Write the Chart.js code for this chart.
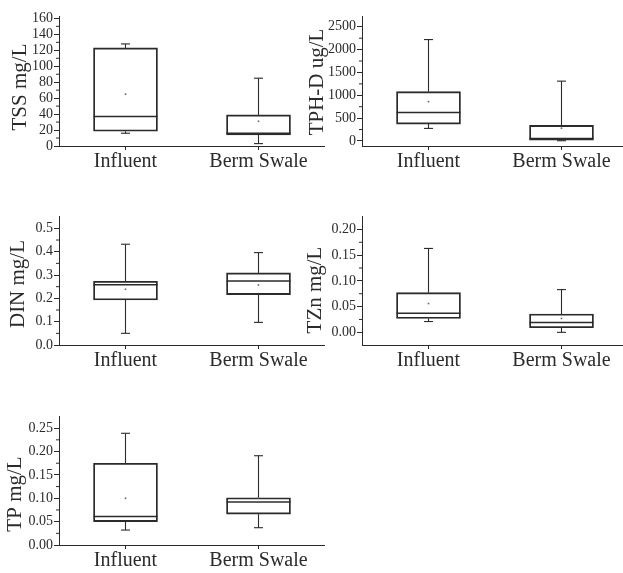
<!DOCTYPE html>
<html>
<head>
<meta charset="utf-8">
<script src="https://cdn.jsdelivr.net/npm/chart.js@4.4.1/dist/chart.umd.min.js"></script>
<style>
  html, body { margin: 0; padding: 0; background: #fff; width: 623px; height: 573px; overflow: hidden; }
  canvas { position: absolute; }
</style>
</head>
<body>
<canvas id="c0"></canvas>
<canvas id="c1"></canvas>
<canvas id="c2"></canvas>
<canvas id="c3"></canvas>
<canvas id="c4"></canvas>
<script>
const groups = ["Influent", "Berm Swale"];
const xPos = [1, 2];

// TSS mg/L
const tssQ1 = [18.5, 14];
const tssQ3 = [123, 39];
const tssMedian = [37, 16];
const tssMean = [65, 31];
const tssLow = [16, 3];
const tssHigh = [128, 85];
const tssTicks = [0, 20, 40, 60, 80, 100, 120, 140, 160];
const tssMinor = [10, 30, 50, 70, 90, 110, 130, 150];

// TPH-D ug/L
const tphQ1 = [370, 20];
const tphQ3 = [1080, 340];
const tphMedian = [625, 55];
const tphMean = [860, 280];
const tphLow = [275, 5];
const tphHigh = [2220, 1310];
const tphTicks = [0, 500, 1000, 1500, 2000, 2500];
const tphMinor = [250, 750, 1250, 1750, 2250];

// DIN mg/L
const dinQ1 = [0.193, 0.216];
const dinQ3 = [0.273, 0.309];
const dinMedian = [0.258, 0.274];
const dinMean = [0.239, 0.257];
const dinLow = [0.05, 0.097];
const dinHigh = [0.432, 0.396];
const dinTicks = [0, 0.1, 0.2, 0.3, 0.4, 0.5];
const dinMinor = [0.05, 0.15, 0.25, 0.35, 0.45];

// TZn mg/L
const tznQ1 = [0.027, 0.009];
const tznQ3 = [0.077, 0.0355];
const tznMedian = [0.037, 0.019];
const tznMean = [0.056, 0.027];
const tznLow = [0.021, 0.0];
const tznHigh = [0.163, 0.083];
const tznTicks = [0, 0.05, 0.1, 0.15, 0.2];
const tznMinor = [0.025, 0.075, 0.125, 0.175];

// TP mg/L
const tpQ1 = [0.05, 0.066];
const tpQ3 = [0.175, 0.101];
const tpMedian = [0.061, 0.092];
const tpMean = [0.10, 0.101];
const tpLow = [0.032, 0.037];
const tpHigh = [0.239, 0.191];
const tpTicks = [0, 0.05, 0.1, 0.15, 0.2, 0.25];
const tpMinor = [0.025, 0.075, 0.125, 0.175, 0.225];

const yTitles = ["TSS mg/L", "TPH-D ug/L", "DIN mg/L", "TZn mg/L", "TP mg/L"];

// panel layout (pixels)
const panels = [
  { title: yTitles[0], q1: tssQ1, q3: tssQ3, med: tssMedian, mean: tssMean, low: tssLow, high: tssHigh,
    ticks: tssTicks, minor: tssMinor, dec: 0, min: 0, max: 163,
    left: 0, top: 0, yw: 59, padTop: 16, area: 130, tx: 20, ty: 87 },
  { title: yTitles[1], q1: tphQ1, q3: tphQ3, med: tphMedian, mean: tphMean, low: tphLow, high: tphHigh,
    ticks: tphTicks, minor: tphMinor, dec: 0, min: -110, max: 2736,
    left: 300, top: 0, yw: 62, padTop: 16, area: 130, tx: 317, ty: 82 },
  { title: yTitles[2], q1: dinQ1, q3: dinQ3, med: dinMedian, mean: dinMean, low: dinLow, high: dinHigh,
    ticks: dinTicks, minor: dinMinor, dec: 1, min: 0, max: 0.553,
    left: 0, top: 200, yw: 59, padTop: 16, area: 129, tx: 18, ty: 284 },
  { title: yTitles[3], q1: tznQ1, q3: tznQ3, med: tznMedian, mean: tznMean, low: tznLow, high: tznHigh,
    ticks: tznTicks, minor: tznMinor, dec: 2, min: -0.0246, max: 0.226,
    left: 300, top: 200, yw: 62, padTop: 16, area: 129, tx: 315, ty: 290 },
  { title: yTitles[4], q1: tpQ1, q3: tpQ3, med: tpMedian, mean: tpMean, low: tpLow, high: tpHigh,
    ticks: tpTicks, minor: tpMinor, dec: 2, min: 0, max: 0.276,
    left: 0, top: 400, yw: 59, padTop: 16, area: 129, tx: 15, ty: 494 }
];

const ink = "#2b2b2b";
const serif = "'Liberation Serif', 'DejaVu Serif', serif";

function boxPlugin(p) {
  return {
    id: "boxes",
    afterDatasetsDraw(chart) {
      const ctx = chart.ctx, xs = chart.scales.x, ys = chart.scales.y, ca = chart.chartArea;
      const line = (x1, y1, x2, y2) => { ctx.beginPath(); ctx.moveTo(x1, y1); ctx.lineTo(x2, y2); ctx.stroke(); };
      ctx.save();
      ctx.strokeStyle = ink;
      xPos.forEach((xv, i) => {
        const cx = xs.getPixelForValue(xv);
        const yq1 = ys.getPixelForValue(p.q1[i]);
        const yq3 = ys.getPixelForValue(p.q3[i]);
        const yhi = ys.getPixelForValue(p.high[i]);
        const ylo = ys.getPixelForValue(p.low[i]);
        ctx.lineWidth = 1.1;
        line(cx, yq3, cx, yhi);
        line(cx, yq1, cx, ylo);
        line(cx - 4.5, yhi, cx + 4.5, yhi);
        line(cx - 4.5, ylo, cx + 4.5, ylo);
        ctx.lineWidth = 1.5;
        const ym = ys.getPixelForValue(p.med[i]);
        line(cx - 32, ym, cx + 32, ym);
        const ya = ys.getPixelForValue(p.mean[i]);
        ctx.fillStyle = "#666";
        ctx.fillRect(cx - 0.8, ya - 0.8, 1.6, 1.6);
      });
      // minor ticks
      ctx.lineWidth = 1;
      p.minor.forEach(v => {
        const y = ys.getPixelForValue(v);
        line(ca.left - 3, y, ca.left, y);
      });
      // y title
      ctx.fillStyle = ink;
      ctx.translate(p.tx - p.left, p.ty - p.top);
      ctx.rotate(-Math.PI / 2);
      ctx.textAlign = "center";
      ctx.textBaseline = "middle";
      ctx.font = "21px " + serif;
      ctx.fillText(p.title, 0, 0);
      ctx.restore();
    }
  };
}

panels.forEach((p, k) => {
  const cv = document.getElementById("c" + k);
  const w = p.yw + 266;
  const h = p.padTop + p.area + 40;
  cv.width = w; cv.height = h;
  cv.style.width = w + "px"; cv.style.height = h + "px";
  cv.style.left = p.left + "px"; cv.style.top = p.top + "px";

  new Chart(cv, {
    type: "bar",
    data: {
      datasets: [{
        data: xPos.map((x, i) => ({ x: x, y: [p.q1[i], p.q3[i]] })),
        backgroundColor: "rgba(0,0,0,0)",
        borderColor: ink,
        borderWidth: 1.2,
        borderSkipped: false,
        barThickness: 64
      }]
    },
    options: {
      responsive: false,
      animation: false,
      layout: { padding: { top: p.padTop, left: 0, right: 0, bottom: 0 } },
      plugins: { legend: { display: false }, tooltip: { enabled: false } },
      scales: {
        x: {
          type: "linear", min: 0.5, max: 2.5, offset: false,
          afterBuildTicks: s => { s.ticks = xPos.map(v => ({ value: v })); },
          afterFit: s => { s.height = 40; },
          ticks: { callback: v => groups[v - 1], font: { family: serif, size: 20 }, color: ink, padding: 0, maxRotation: 0, autoSkip: false },
          grid: { drawOnChartArea: false, offset: false, tickLength: 4, color: ink },
          border: { color: ink, width: 1 }
        },
        y: {
          min: p.min, max: p.max,
          afterBuildTicks: s => { s.ticks = p.ticks.map(v => ({ value: v })); },
          afterFit: s => { s.width = p.yw; },
          ticks: { callback: v => Number(v).toFixed(p.dec), font: { family: serif, size: 14 }, color: ink, padding: 1, autoSkip: false },
          grid: { drawOnChartArea: false, tickLength: 5, color: ink },
          border: { color: ink, width: 1 }
        }
      }
    },
    plugins: [boxPlugin(p)]
  });
});
</script>
</body>
</html>
